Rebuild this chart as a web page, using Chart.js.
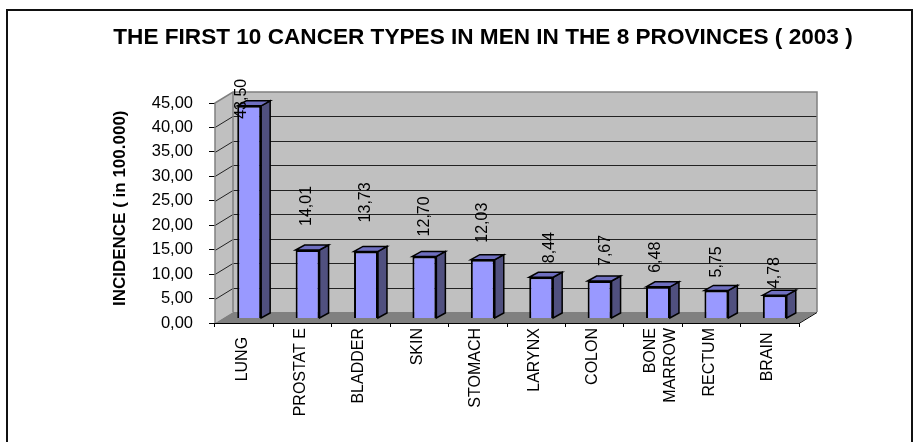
<!DOCTYPE html>
<html>
<head>
<meta charset="utf-8">
<style>
  html, body { margin: 0; padding: 0; background: #fff; }
  canvas { display: block; }
</style>
<script src="https://cdn.jsdelivr.net/npm/chart.js@4"></script>
</head>
<body>
<canvas id="cancerchart" width="917" height="442"></canvas>
<script>
var chartTitle = 'THE FIRST 10 CANCER TYPES IN MEN IN THE 8 PROVINCES ( 2003 )';
var yTitle = 'INCIDENCE ( in 100.000)';
var cancerTypes = ['LUNG  ', 'PROSTAT E', 'BLADDER', 'SKIN', 'STOMACH', 'LARYNX', 'COLON', ['BONE', 'MARROW'], 'RECTUM', 'BRAIN '];
var incidence = [43.50, 14.01, 13.73, 12.70, 12.03, 8.44, 7.67, 6.48, 5.75, 4.78];

// the value labels are not placed evenly in the original
var labelShiftX = [-8, -1, 0, 0, 0, 8, 6, -2, 0, 0];
var labelLift = [-13, 24, 29, 20, 17, 14, 15, 14, 13, 7];

var fontName = '"Liberation Sans", Arial, sans-serif';
var depthX = 18, depthY = 11;    // depth of the fake 3d box
var barDX = 5, barDY = 4.5;      // bars stand in the middle of the floor
var barDepthX = 9, barDepthY = 5;

function comma(v) {
    return v.toFixed(2).replace('.', ',');
}

// 3d walls, floor and frame behind the bars
var wallsPlugin = {
    id: 'walls',
    beforeDatasetsDraw: function(chart) {
        var ctx = chart.ctx, a = chart.chartArea, y = chart.scales.y;
        ctx.save();
        // back wall
        ctx.fillStyle = '#c0c0c0';
        ctx.fillRect(a.left + depthX, a.top - depthY, a.width, a.height);
        // left wall
        ctx.beginPath();
        ctx.moveTo(a.left, a.top);
        ctx.lineTo(a.left + depthX, a.top - depthY);
        ctx.lineTo(a.left + depthX, a.bottom - depthY);
        ctx.lineTo(a.left, a.bottom);
        ctx.closePath();
        ctx.fill();
        // floor
        ctx.fillStyle = '#808080';
        ctx.beginPath();
        ctx.moveTo(a.left, a.bottom);
        ctx.lineTo(a.left + depthX, a.bottom - depthY);
        ctx.lineTo(a.right + depthX, a.bottom - depthY);
        ctx.lineTo(a.right, a.bottom);
        ctx.closePath();
        ctx.fill();
        // grid lines
        ctx.strokeStyle = '#222';
        ctx.lineWidth = 1;
        y.ticks.forEach(function(t) {
            var py = Math.round(y.getPixelForValue(t.value)) + 0.5;
            if (t.value === 0 || t.value === 45) return;
            ctx.beginPath();
            ctx.moveTo(a.left, py);
            ctx.lineTo(a.left + depthX, py - depthY);
            ctx.lineTo(a.right + depthX, py - depthY);
            ctx.stroke();
        });
        // wall edges
        ctx.strokeStyle = '#808080';
        ctx.lineWidth = 1.5;
        ctx.beginPath();
        ctx.moveTo(a.left, a.bottom);
        ctx.lineTo(a.left, a.top);
        ctx.lineTo(a.left + depthX, a.top - depthY);
        ctx.lineTo(a.right + depthX, a.top - depthY);
        ctx.lineTo(a.right + depthX, a.bottom - depthY);
        ctx.moveTo(a.left + depthX, a.top - depthY);
        ctx.lineTo(a.left + depthX, a.bottom - depthY);
        ctx.stroke();
        // axis lines at the front
        ctx.strokeStyle = '#000';
        ctx.lineWidth = 1;
        ctx.beginPath();
        ctx.moveTo(a.left, a.bottom + 0.5);
        ctx.lineTo(a.right, a.bottom + 0.5);
        ctx.lineTo(a.right + depthX, a.bottom - depthY + 0.5);
        ctx.stroke();
        ctx.restore();
    },
    // sides and tops of the bars, then move the fronts onto the floor
    beforeDatasetDraw: function(chart, args) {
        var ctx = chart.ctx;
        ctx.save();
        ctx.translate(barDX, -barDY);
        ctx.lineWidth = 1.5;
        ctx.strokeStyle = '#000';
        args.meta.data.forEach(function(bar) {
            var r = bar.x + bar.width / 2, l = bar.x - bar.width / 2;
            ctx.fillStyle = '#50507f';
            ctx.beginPath();
            ctx.moveTo(r, bar.y);
            ctx.lineTo(r + barDepthX, bar.y - barDepthY);
            ctx.lineTo(r + barDepthX, bar.base - barDepthY);
            ctx.lineTo(r, bar.base);
            ctx.closePath();
            ctx.fill();
            ctx.stroke();
            ctx.fillStyle = '#6f6fc0';
            ctx.beginPath();
            ctx.moveTo(l, bar.y);
            ctx.lineTo(l + barDepthX, bar.y - barDepthY);
            ctx.lineTo(r + barDepthX, bar.y - barDepthY);
            ctx.lineTo(r, bar.y);
            ctx.closePath();
            ctx.fill();
            ctx.stroke();
        });
    },
    afterDatasetDraw: function(chart) {
        chart.ctx.restore();
    },
    // value labels, title and the outer frame
    afterDatasetsDraw: function(chart) {
        var ctx = chart.ctx;
        var bars = chart.getDatasetMeta(0).data;
        ctx.save();
        ctx.fillStyle = '#000';
        ctx.font = '16px ' + fontName;
        ctx.textAlign = 'left';
        ctx.textBaseline = 'middle';
        bars.forEach(function(bar, i) {
            ctx.save();
            ctx.translate(bar.x + barDX + labelShiftX[i], bar.y - barDY - labelLift[i]);
            ctx.rotate(-Math.PI / 2);
            ctx.fillText(comma(incidence[i]), 0, 0);
            ctx.restore();
        });
        ctx.font = 'bold 22.6px ' + fontName;
        ctx.textAlign = 'center';
        ctx.fillText(chartTitle, 483, 38);
        ctx.strokeStyle = '#111';
        ctx.lineWidth = 2;
        ctx.strokeRect(7, 10, 905, 440);
        ctx.restore();
    }
};

var barconfig = {
    type: 'bar',
    data: {
        labels: cancerTypes,
        datasets: [{
            data: incidence,
            backgroundColor: '#9999ff',
            borderColor: '#000',
            borderWidth: 2,
            barPercentage: 0.41,
            categoryPercentage: 1
        }]
    },
    options: {
        responsive: false,
        animation: false,
        layout: { padding: { top: 103, right: 118, bottom: 0, left: 0 } },
        plugins: { legend: { display: false }, tooltip: { enabled: false } },
        scales: {
            x: {
                grid: { display: true, drawOnChartArea: false, drawTicks: true, tickLength: 4, color: '#000' },
                border: { display: false },
                afterFit: function(s) { s.height = 442 - 103 - 220; },
                ticks: {
                    color: '#000',
                    font: { family: fontName, size: 16 },
                    minRotation: 90,
                    maxRotation: 90,
                    autoSkip: false,
                    labelOffset: -2,
                    padding: 1
                }
            },
            y: {
                min: 0,
                max: 45,
                grid: { display: true, drawOnChartArea: false, drawTicks: true, tickLength: 6, color: '#000' },
                border: { display: false },
                afterFit: function(s) { s.width = 215; },
                ticks: {
                    stepSize: 5,
                    color: '#000',
                    font: { family: fontName, size: 16.5 },
                    padding: 16,
                    callback: function(v) { return comma(v); }
                },
                title: {
                    display: true,
                    text: '  ' + yTitle,
                    color: '#000',
                    font: { family: fontName, size: 17, weight: 'bold' },
                    padding: { top: 110, bottom: 0 }
                }
            }
        }
    },
    plugins: [wallsPlugin]
};

var cancerchart = new Chart(document.getElementById('cancerchart'), barconfig);
</script>
</body>
</html>
